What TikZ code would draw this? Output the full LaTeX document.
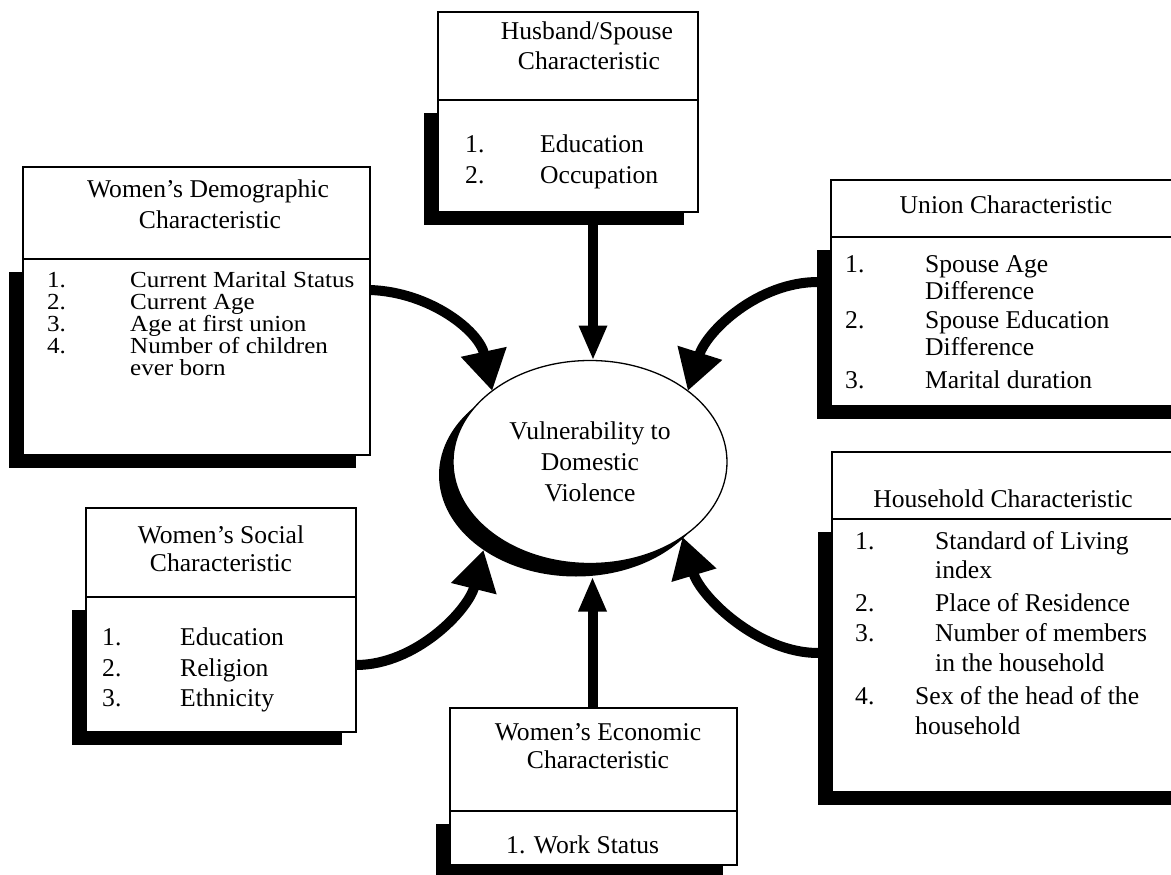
\documentclass[tikz,border=0pt]{standalone}
\usepackage{fontspec}
\setmainfont{Liberation Serif}
\newfontfamily\demfont[FakeStretch=1.09]{Liberation Serif}
\usetikzlibrary{arrows.meta,calc,shapes.geometric}
\tikzset{
  part/.style={draw=black, line width=1.3pt, fill=white, inner sep=0pt, outer sep=0pt, anchor=north west},
  txt/.style={inner sep=0pt, anchor=base west, font=\fontsize{25.6pt}{29pt}\selectfont},
  dtxt/.style={inner sep=0pt, anchor=base west, font=\demfont\fontsize{23pt}{23pt}\selectfont},
  ctxt/.style={inner sep=0pt, anchor=base, font=\fontsize{25.6pt}{29pt}\selectfont},
  varr/.style={line width=10pt, -{Triangle[length=35pt,width=26pt]}},
  carr/.style={line width=10pt, -{Triangle[length=40pt,width=44pt]}},
}
\begin{document}
\begin{tikzpicture}[x=1pt,y=-1pt]
\useasboundingbox (0,0) rectangle (1171,875);
\fill[white] (0,0) rectangle (1171,875);
\clip (0,0) rectangle (1171,875);

% ---------- ellipse ----------
\node[ellipse, fill=black, minimum width=274pt, minimum height=203pt, inner sep=0pt, outer sep=0pt] (ellsh) at (576,475) {};
\node[ellipse, draw=black, line width=1.3pt, fill=white, minimum width=274pt, minimum height=203pt, inner sep=0pt, outer sep=0pt, align=center, font=\fontsize{25.6pt}{31pt}\selectfont] (ell) at (590,462) {Vulnerability to\\Domestic\\Violence};

% ---------- box geometry ----------
\node[part, minimum width=260pt, minimum height=88pt] (hushdr) at (438,12) {};
\node[part, minimum width=260pt, minimum height=112pt] (huslist) at (438,100) {};
\node[part, minimum width=347pt, minimum height=92pt] (demhdr) at (23,167) {};
\node[part, minimum width=347pt, minimum height=196pt] (demlist) at (23,259) {};
\node[part, minimum width=354pt, minimum height=57pt] (unihdr) at (831,180) {};
\node[part, minimum width=354pt, minimum height=169pt] (unilist) at (831,237) {};
\node[part, minimum width=270pt, minimum height=89pt] (sochdr) at (86,508) {};
\node[part, minimum width=270pt, minimum height=135pt] (soclist) at (86,597) {};
\node[part, minimum width=353pt, minimum height=67pt] (houhdr) at (832,452) {};
\node[part, minimum width=353pt, minimum height=273pt] (houlist) at (832,519) {};
\node[part, minimum width=287pt, minimum height=103pt] (ecohdr) at (450,708) {};
\node[part, minimum width=287pt, minimum height=54pt] (ecolist) at (450,811) {};

% ---------- connector ends ----------
\coordinate (husout) at ($(huslist.south)+(25,0)$);
\coordinate (husin) at (ell.north -| husout);
\coordinate (ecoout) at ($(ecohdr.north)+(-1,0)$);
\coordinate (ecoin) at (ellsh.south -| ecoout);
\coordinate (demout) at ($(demlist.north east)+(0,31)$);
\coordinate (uniout) at ($(unilist.north west)+(-13,45)$);
\coordinate (socout) at ($(soclist.north east)+(0,68)$);
\coordinate (houout) at ($(houlist.north west)+(-14,134)$);

% ---------- connectors ----------
\draw[varr] (husout) -- (husin);
\draw[varr] (ecoout) -- (ecoin);
\draw[carr] (demout) .. controls +(60,2) and +(-13,-60) .. (ell.144);
\draw[carr] (uniout) .. controls +(-60,0) and +(19,-60) .. (ell.36);
\draw[carr] (socout) .. controls +(60,0) and +(-15,60) .. (ellsh.219);
\draw[carr] (houout) .. controls +(-60,0) and +(18,60) .. (ell.-39);

% ---------- shadows ----------
\foreach \b in {huslist,demlist,unilist,soclist,houlist,ecolist}{
  \fill[black] ($(\b.north west)+(-14,13)$) rectangle ($(\b.south east)+(-14,13)$);
}
% ---------- boxes (redrawn over shadows) ----------
\foreach \b in {hushdr,huslist,demhdr,demlist,unihdr,unilist,sochdr,soclist,houhdr,houlist,ecohdr,ecolist}{
  \draw[line width=1.3pt, fill=white] (\b.north west) rectangle (\b.south east);
}

% ---------- Husband/Spouse ----------
\node[ctxt] (h1) at (587,40) {Husband/Spouse};
\node[ctxt] (h2) at (589,70) {Characteristic};
\node[txt] (h3) at (465,153) {1.};
\node[txt] (h4) at (540,153) {Education};
\node[txt] (h5) at (465,183) {2.};
\node[txt] (h6) at (540,183) {Occupation};

% ---------- Demographic ----------
\node[ctxt] (d1) at (208,197) {Women’s Demographic};
\node[ctxt] (d2) at (210,228) {Characteristic};
\node[dtxt] (d3) at (47,287) {1.};
\node[dtxt] (d4) at (130,287) {Current Marital Status};
\node[dtxt] (d5) at (47,309) {2.};
\node[dtxt] (d6) at (130,309) {Current Age};
\node[dtxt] (d7) at (47,331) {3.};
\node[dtxt] (d8) at (130,331) {Age at first union};
\node[dtxt] (d9) at (47,353) {4.};
\node[dtxt] (d10) at (130,353) {Number of children};
\node[dtxt] (d11) at (130,375) {ever born};

% ---------- Union ----------
\node[ctxt] (u1) at (1006,213) {Union Characteristic};
\node[txt] (u2) at (845,272) {1.};
\node[txt] (u3) at (925,272) {Spouse Age};
\node[txt] (u4) at (925,299) {Difference};
\node[txt] (u5) at (845,328) {2.};
\node[txt] (u6) at (925,328) {Spouse Education};
\node[txt] (u7) at (925,355) {Difference};
\node[txt] (u8) at (845,388) {3.};
\node[txt] (u9) at (925,388) {Marital duration};

% ---------- Social ----------
\node[ctxt] (s1) at (221,543) {Women’s Social};
\node[ctxt] (s2) at (221,571) {Characteristic};
\node[txt] (s3) at (102,645) {1.};
\node[txt] (s4) at (180,645) {Education};
\node[txt] (s5) at (102,676) {2.};
\node[txt] (s6) at (180,676) {Religion};
\node[txt] (s7) at (102,706) {3.};
\node[txt] (s8) at (180,706) {Ethnicity};

% ---------- Household ----------
\node[ctxt] (o1) at (1003,507) {Household Characteristic};
\node[txt] (o2) at (855,549) {1.};
\node[txt] (o3) at (935,549) {Standard of Living};
\node[txt] (o4) at (935,578) {index};
\node[txt] (o5) at (855,611) {2.};
\node[txt] (o6) at (935,611) {Place of Residence};
\node[txt] (o7) at (855,641) {3.};
\node[txt] (o8) at (935,641) {Number of members};
\node[txt] (o9) at (935,671) {in the household};
\node[txt] (o10) at (855,704) {4.};
\node[txt] (o11) at (915,704) {Sex of the head of the};
\node[txt] (o12) at (915,734) {household};

% ---------- Economic ----------
\node[ctxt] (e1) at (598,740) {Women’s Economic};
\node[ctxt] (e2) at (598,768) {Characteristic};
\node[txt] (e3) at (506,853) {1. Work Status};
\end{tikzpicture}
\end{document}
